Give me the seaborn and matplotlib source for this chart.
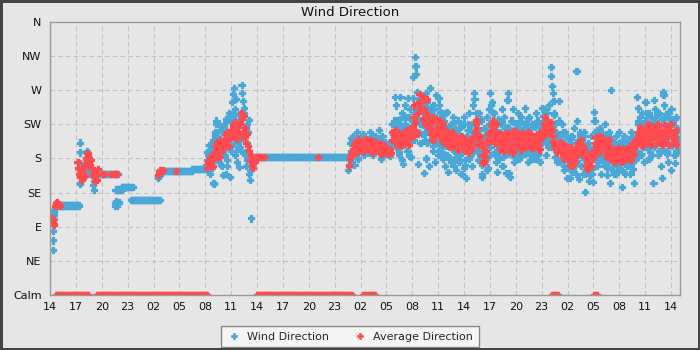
import numpy as np
import pandas as pd
import matplotlib
matplotlib.use("Agg")
import matplotlib.pyplot as plt
import seaborn as sns
from matplotlib.patches import Rectangle
from matplotlib.lines import Line2D
from matplotlib.ticker import MultipleLocator, FixedLocator, FuncFormatter

# Time axis: hours since 14:00 on the first day
START_HOUR = 14
SPAN_HOURS = 73.04
SAMPLE_STEP = 1 / 12  # 5-minute logging interval

compass_labels = ["Calm", "NE", "E", "SE", "S", "SW", "W", "NW", "N"]
compass_deg = [0, 45, 90, 135, 180, 225, 270, 315, 360]

# Wind vane direction held steady while the air was calm: (start h, end h, degrees)
vane_hold = [(1.1, 3.4, 118), (5.2, 7.9, 160), (7.6, 8.4, 139), (8.4, 9.6, 142),
             (9.4, 12.75, 125), (12.9, 16.5, 164), (16.5, 18.3, 166), (23.4, 34.8, 182)]

# Single wind direction readings: (h, degrees)
wind_points = [(0.31, 84), (0.32, 59), (0.39, 72), (0.40, 100), (0.42, 105), (0.46, 110),
               (0.50, 112), (0.55, 115), (0.65, 117), (0.85, 118),
               (3.44, 201), (3.44, 188), (3.44, 174), (3.44, 147), (3.5, 160), (3.7, 166),
               (3.9, 170), (4.1, 164), (4.3, 190), (4.4, 160), (4.5, 166), (4.7, 162),
               (4.8, 160), (4.9, 158), (5.0, 145), (5.1, 138), (5.15, 150),
               (7.5, 117), (7.6, 121), (7.7, 124), (7.8, 118), (7.95, 122),
               (12.5, 154), (12.6, 157), (12.75, 159), (12.85, 162), (13.0, 161)]

# Busy wind direction spells: (start h, end h, readings in time order)
wind_spells = [
    (18.0, 19.0, [166, 170, 178, 185, 175, 190, 160, 182, 195, 168, 200, 148]),
    (19.0, 20.0, [147, 215, 225, 230, 208, 190, 175, 205, 218, 185, 200, 170]),
    (20.0, 21.0, [158, 221, 205, 185, 160, 195, 170, 235, 240, 210, 156, 190]),
    (21.0, 22.0, [238, 255, 265, 273, 200, 185, 258, 221, 175, 195, 210, 169]),
    (22.0, 23.0, [205, 190, 277, 266, 256, 246, 215, 185, 170, 225, 200, 180]),
    (23.0, 23.35, [160, 231, 152, 165, 101]),
    (34.5, 35.0, [165, 180, 172, 200, 207, 190]),
    (35.0, 36.0, [174, 210, 185, 172, 205, 190, 200, 215, 180, 198, 207, 195]),
    (36.0, 37.0, [190, 205, 198, 212, 185, 200, 208, 194, 202, 196, 188, 205]),
    (37.0, 38.0, [200, 215, 190, 208, 196, 185, 203, 210, 198, 192, 206, 200]),
    (38.0, 39.0, [195, 218, 188, 200, 180, 205, 210, 192, 198, 186, 202, 196]),
    (39.0, 40.0, [186, 194, 190, 200, 184, 192, 198, 215, 225, 212, 230, 205]),
    (40.0, 41.0, [261, 250, 215, 230, 195, 185, 225, 261, 205, 240, 220, 173]),
    (41.0, 42.0, [210, 250, 235, 200, 190, 260, 222, 183, 245, 215, 205, 230]),
    (42.0, 43.0, [288, 260, 240, 314, 302, 292, 245, 173, 230, 215, 250, 200]),
    (43.0, 44.0, [261, 225, 240, 250, 161, 205, 230, 180, 255, 215, 245, 170]),
    (44.0, 45.0, [273, 244, 230, 215, 190, 250, 205, 175, 264, 235, 200, 185]),
    (45.0, 46.0, [260, 250, 241, 225, 210, 195, 180, 230, 215, 170, 240, 205]),
    (46.0, 47.0, [241, 162, 215, 195, 180, 225, 175, 205, 235, 170, 190, 220]),
    (47.0, 48.0, [165, 215, 190, 230, 175, 200, 185, 222, 160, 210, 195, 235]),
    (48.0, 49.0, [167, 171, 154, 210, 195, 225, 180, 240, 200, 185, 215, 170]),
    (49.0, 50.0, [250, 266, 258, 225, 200, 215, 190, 178, 240, 205, 185, 230]),
    (50.0, 51.0, [160, 156, 175, 200, 220, 177, 190, 235, 165, 210, 245, 185]),
    (51.0, 52.0, [266, 250, 255, 241, 230, 215, 200, 185, 175, 162, 225, 210]),
    (52.0, 53.0, [180, 195, 210, 225, 245, 170, 205, 235, 185, 220, 161, 200]),
    (53.0, 54.0, [257, 266, 161, 156, 200, 215, 230, 185, 245, 175, 210, 195]),
    (54.0, 55.0, [210, 225, 195, 240, 180, 215, 200, 235, 185, 220, 190, 205]),
    (55.0, 56.0, [246, 215, 190, 225, 200, 175, 235, 205, 185, 220, 195, 180]),
    (56.0, 57.0, [210, 195, 225, 180, 240, 205, 190, 230, 215, 175, 200, 220]),
    (57.0, 58.0, [246, 230, 215, 245, 225, 200, 185, 240, 210, 195, 250, 220]),
    (58.0, 59.0, [301, 289, 276, 266, 256, 240, 225, 210, 190, 175, 200, 230]),
    (59.0, 60.0, [256, 175, 195, 210, 225, 185, 200, 165, 215, 180, 190, 154]),
    (60.0, 61.0, [170, 200, 185, 154, 190, 210, 175, 165, 220, 180, 195, 160]),
    (61.0, 62.0, [295, 229, 200, 153, 185, 215, 170, 190, 205, 160, 180, 210]),
    (62.0, 63.0, [136, 165, 185, 175, 200, 150, 190, 170, 210, 160, 180, 149]),
    (63.0, 64.0, [241, 230, 215, 200, 185, 170, 210, 195, 180, 220, 160, 190]),
    (64.0, 65.0, [180, 195, 210, 170, 225, 185, 158, 200, 175, 215, 190, 148]),
    (65.0, 66.0, [270, 200, 185, 170, 160, 195, 180, 210, 165, 190, 175, 215]),
    (66.0, 67.0, [165, 185, 200, 142, 175, 190, 210, 160, 180, 195, 170, 205]),
    (67.0, 68.0, [170, 185, 200, 160, 215, 195, 175, 190, 148, 205, 180, 210]),
    (68.0, 69.0, [261, 246, 230, 215, 200, 185, 225, 240, 210, 195, 175, 220]),
    (69.0, 70.0, [254, 240, 225, 210, 195, 180, 220, 235, 200, 185, 230, 148]),
    (70.0, 71.0, [257, 245, 230, 215, 200, 185, 225, 240, 205, 190, 170, 154]),
    (71.0, 72.0, [267, 264, 250, 235, 220, 205, 190, 175, 240, 225, 210, 165]),
    (72.0, 72.9, [245, 230, 215, 200, 185, 174, 235, 220, 205, 190]),
]

# Further wind direction readings close to the running average
wind_band_spells = [
    (18.0, 19.0, [172, 188, 165, 198, 180, 192, 176, 205]),
    (19.0, 20.0, [180, 212, 195, 225, 188, 205, 172, 215]),
    (20.0, 21.0, [188, 225, 200, 232, 178, 215, 195, 228]),
    (21.0, 22.0, [198, 235, 212, 245, 190, 228, 205, 238]),
    (22.0, 23.0, [195, 232, 210, 240, 188, 222, 178, 215]),
    (40.0, 41.0, [195, 222, 210, 188, 232, 203, 178, 216]),
    (41.0, 42.0, [198, 226, 215, 190, 235, 204, 182, 220]),
    (42.0, 43.0, [220, 205, 250, 232, 268, 212, 258, 225]),
    (43.0, 44.0, [230, 212, 248, 222, 266, 200, 238, 218]),
    (44.0, 45.0, [205, 238, 220, 196, 245, 212, 228, 190]),
    (45.0, 46.0, [200, 232, 215, 188, 240, 208, 222, 196]),
    (46.0, 47.0, [185, 220, 198, 212, 178, 228, 192, 206]),
    (47.0, 48.0, [182, 215, 195, 220, 178, 205, 188, 226]),
    (48.0, 49.0, [178, 208, 190, 218, 182, 200, 224, 188]),
    (49.0, 50.0, [192, 228, 205, 240, 196, 218, 186, 232]),
    (50.0, 51.0, [172, 208, 190, 218, 180, 200, 168, 226]),
    (51.0, 52.0, [195, 228, 205, 240, 188, 218, 200, 232]),
    (52.0, 53.0, [188, 215, 200, 228, 182, 210, 195, 222]),
    (53.0, 54.0, [186, 220, 200, 230, 190, 212, 182, 225]),
    (54.0, 55.0, [188, 222, 198, 230, 185, 212, 200, 226]),
    (55.0, 56.0, [186, 220, 200, 232, 190, 212, 196, 226]),
    (56.0, 57.0, [188, 222, 198, 230, 185, 214, 200, 226]),
    (57.0, 58.0, [200, 236, 212, 245, 205, 228, 198, 218]),
    (58.0, 59.0, [195, 222, 205, 238, 182, 215, 200, 210]),
    (59.0, 60.0, [178, 205, 190, 215, 170, 198, 185, 208]),
    (60.0, 61.0, [168, 195, 178, 206, 162, 186, 172, 200]),
    (61.0, 62.0, [176, 205, 188, 212, 170, 198, 182, 215]),
    (62.0, 63.0, [160, 188, 170, 195, 158, 182, 166, 192]),
    (63.0, 64.0, [180, 210, 192, 218, 175, 202, 186, 214]),
    (64.0, 65.0, [176, 206, 188, 212, 168, 198, 182, 208]),
    (65.0, 66.0, [166, 195, 178, 202, 160, 188, 172, 200]),
    (66.0, 67.0, [168, 196, 178, 204, 162, 188, 174, 200]),
    (67.0, 68.0, [172, 200, 184, 208, 166, 194, 178, 205]),
    (68.0, 69.0, [190, 226, 205, 235, 186, 215, 198, 230]),
    (69.0, 70.0, [195, 228, 206, 240, 188, 218, 200, 232]),
    (70.0, 71.0, [195, 230, 208, 238, 190, 218, 200, 232]),
    (71.0, 72.0, [192, 226, 205, 238, 186, 215, 198, 232]),
    (72.0, 72.8, [196, 225, 208, 232, 190, 215]),
]

# Average direction: spells where the average came out calm (start h, end h)
calm_spells = [(0.7, 3.5), (3.6, 4.5), (5.4, 12.75), (12.9, 18.3), (24.0, 35.0),
               (36.3, 36.6), (36.9, 37.4), (37.5, 37.7), (58.2, 58.9), (63.1, 63.5)]

# Single average direction readings: (h, degrees)
avg_points = [(0.15, 95), (0.25, 101), (0.35, 98), (0.45, 93), (0.55, 117), (0.7, 121),
              (0.85, 123), (1.0, 120), (1.15, 118),
              (6.1, 160), (6.3, 160), (7.1, 160), (7.4, 160), (7.6, 160), (7.8, 160),
              (12.5, 158), (12.6, 161), (12.7, 163), (12.8, 165), (12.95, 164), (13.1, 165),
              (14.6, 164), (31.1, 182)]

# Busy average direction spells: (start h, end h, readings in time order)
avg_spells = [
    (3.15, 4.05, [175, 168, 160, 155, 165, 158, 152, 162, 170, 157]),
    (4.05, 4.85, [172, 180, 187, 183, 176, 169, 178]),
    (4.85, 5.6, [168, 160, 155, 150, 163, 158, 152, 166]),
    (18.2, 19.0, [168, 176, 172, 182, 178, 185, 170, 180]),
    (19.0, 20.0, [185, 196, 190, 202, 188, 198, 182, 204, 192, 195]),
    (20.0, 21.0, [192, 200, 206, 198, 212, 215, 204, 196, 210, 218]),
    (21.0, 22.0, [208, 216, 224, 212, 228, 218, 206, 222, 214, 226]),
    (22.0, 23.0, [226, 240, 232, 215, 236, 208, 220, 200, 212, 196]),
    (23.0, 23.9, [190, 178, 184, 172, 168, 176, 180]),
    (23.9, 24.9, [182, 182, 182, 182, 182, 182]),
    (34.6, 35.0, [170, 180, 186]),
    (35.0, 36.0, [185, 192, 198, 202, 188, 200, 195, 205, 190, 198]),
    (36.0, 37.0, [200, 195, 204, 190, 202, 198, 206, 193, 200, 196]),
    (37.0, 38.0, [198, 192, 204, 188, 200, 195, 202, 190, 197, 194]),
    (38.0, 39.0, [196, 190, 200, 186, 194, 198, 188, 192, 196, 190]),
    (39.0, 40.0, [190, 186, 192, 188, 191, 187, 205, 215, 210, 218]),
    (40.0, 41.0, [205, 212, 198, 215, 202, 210, 196, 208, 214, 200]),
    (41.0, 42.0, [204, 214, 200, 210, 218, 206, 198, 212, 220, 208]),
    (42.0, 43.0, [222, 235, 250, 228, 215, 212, 240, 255, 265, 245]),
    (43.0, 44.0, [255, 262, 232, 245, 225, 240, 258, 235, 228, 220]),
    (44.0, 45.0, [225, 212, 235, 205, 228, 218, 210, 232, 215, 222]),
    (45.0, 46.0, [222, 210, 230, 214, 205, 225, 200, 218, 212, 208]),
    (46.0, 47.0, [205, 198, 212, 195, 208, 200, 215, 196, 204, 210]),
    (47.0, 48.0, [200, 194, 207, 192, 203, 198, 210, 196, 202, 205]),
    (48.0, 49.0, [196, 190, 204, 192, 200, 188, 197, 206, 193, 199]),
    (49.0, 50.0, [198, 208, 215, 225, 231, 220, 205, 198, 210, 202]),
    (50.0, 51.0, [195, 185, 176, 174, 182, 190, 200, 206, 212, 204]),
    (51.0, 52.0, [215, 224, 205, 230, 218, 200, 210, 226, 202, 212]),
    (52.0, 53.0, [205, 192, 212, 200, 196, 208, 190, 204, 214, 198]),
    (53.0, 54.0, [200, 214, 190, 208, 196, 210, 188, 204, 216, 198]),
    (54.0, 55.0, [205, 195, 212, 200, 198, 208, 192, 214, 202, 196]),
    (55.0, 56.0, [200, 210, 195, 206, 215, 198, 204, 212, 194, 208]),
    (56.0, 57.0, [205, 195, 210, 200, 208, 198, 214, 192, 204, 210]),
    (57.0, 58.0, [208, 218, 226, 235, 225, 214, 230, 220, 212, 222]),
    (58.0, 59.0, [228, 218, 210, 202, 196, 200, 192, 188, 198, 194]),
    (59.0, 60.0, [196, 202, 188, 194, 186, 180, 192, 198, 184, 190]),
    (60.0, 61.0, [180, 186, 172, 195, 178, 170, 188, 182, 175, 192]),
    (61.0, 62.0, [185, 194, 200, 190, 198, 204, 188, 196, 192, 186]),
    (62.0, 63.0, [182, 172, 166, 175, 168, 186, 178, 170, 180, 188]),
    (63.0, 64.0, [190, 200, 208, 196, 186, 204, 194, 210, 198, 202]),
    (64.0, 65.0, [196, 206, 188, 200, 192, 182, 198, 204, 186, 194]),
    (65.0, 66.0, [186, 178, 192, 182, 176, 188, 184, 180, 194, 178]),
    (66.0, 67.0, [180, 190, 185, 176, 192, 184, 178, 188, 182, 194]),
    (67.0, 68.0, [188, 182, 196, 178, 192, 200, 186, 194, 204, 198]),
    (68.0, 69.0, [205, 215, 200, 212, 222, 208, 196, 218, 210, 204]),
    (69.0, 70.0, [212, 200, 220, 226, 206, 216, 198, 222, 210, 214]),
    (70.0, 71.0, [208, 222, 200, 216, 226, 210, 204, 218, 212, 198]),
    (71.0, 72.0, [205, 216, 224, 200, 212, 208, 220, 198, 214, 226]),
    (72.0, 72.7, [215, 200, 212, 204, 208, 218, 198]),
]

WIND_COLOR = "#4aa8d8"
AVG_COLOR = "#ff4b4f"
BG_COLOR = "#e6e6e6"


def expand_holds(holds):
    rows = []
    for a, b, deg in holds:
        for t in np.arange(a, b + 1e-9, SAMPLE_STEP):
            rows.append((t, deg))
    return rows


def expand_spells(spells):
    rows = []
    for a, b, vals in spells:
        n = len(vals)
        for i, v in enumerate(vals):
            rows.append((a + (i + 0.5) * (b - a) / n, v))
    return rows


wind_rows = (expand_holds(vane_hold) + wind_points + expand_spells(wind_spells)
             + expand_spells(wind_band_spells))
avg_rows = (expand_holds([(a, b, 0) for a, b in calm_spells]) + avg_points
            + expand_spells(avg_spells))

df = pd.concat([
    pd.DataFrame(wind_rows, columns=["hour", "direction"]).assign(series="Wind Direction"),
    pd.DataFrame(avg_rows, columns=["hour", "direction"]).assign(series="Average Direction"),
], ignore_index=True)

sns.set_style("white")
plt.rcParams["font.family"] = ["DejaVu Sans"]

fig = plt.figure(figsize=(7, 3.5), dpi=100, facecolor=BG_COLOR)
ax = fig.add_axes([50 / 700, 55 / 350, 630 / 700, 273 / 350])
ax.set_facecolor(BG_COLOR)

sns.scatterplot(data=df, x="hour", y="direction", hue="series",
                palette={"Wind Direction": WIND_COLOR, "Average Direction": AVG_COLOR},
                marker="P", s=20, linewidth=0.9, edgecolor="face", legend=False, ax=ax)

ax.set_xlim(0, SPAN_HOURS)
ax.set_ylim(0, 360)
ax.set_xlabel("")
ax.set_ylabel("")

ax.xaxis.set_major_locator(MultipleLocator(3))
ax.xaxis.set_minor_locator(MultipleLocator(1))
ax.xaxis.set_major_formatter(FuncFormatter(lambda v, p: f"{int(round(START_HOUR + v)) % 24:02d}"))
ax.yaxis.set_major_locator(FixedLocator(compass_deg))
ax.set_yticklabels(compass_labels)

ax.tick_params(axis="x", which="both", direction="out", length=2.5, width=0.8,
               color="#333333", labelsize=8, pad=2.5, labelcolor="#111111")
ax.tick_params(axis="y", which="both", length=0, labelsize=8, pad=6, labelcolor="#111111")

ax.grid(True, which="major", linestyle=(0, (4, 3)), color="#c2c2c2", linewidth=0.8)
ax.set_axisbelow(True)
for side in ax.spines.values():
    side.set_color("#9a9a9a")
    side.set_linewidth(1.0)

fig.text(0.5, 1 - 12 / 350, "Wind Direction", ha="center", va="center",
         fontsize=9.5, color="#111111")

handles = [Line2D([], [], marker="P", linestyle="", color=WIND_COLOR, markersize=4,
                  markeredgewidth=0.5),
           Line2D([], [], marker="P", linestyle="", color=AVG_COLOR, markersize=4,
                  markeredgewidth=0.5)]
leg = fig.legend(handles, ["Wind Direction", "Average Direction"], loc="lower center",
                 bbox_to_anchor=(0.5, -3 / 350), ncol=2, fontsize=8, frameon=True,
                 fancybox=False, framealpha=1, facecolor="#f5f5f5", edgecolor="#888888",
                 borderpad=0.5, handletextpad=0.6, columnspacing=2.2, handlelength=1.2)
leg.get_frame().set_linewidth(1.0)

fig.patches.append(Rectangle((0, 0), 1, 1, transform=fig.transFigure, fill=False,
                             edgecolor="#444444", linewidth=3.6, zorder=10))

fig.savefig("out.png", dpi=100, facecolor=BG_COLOR)
